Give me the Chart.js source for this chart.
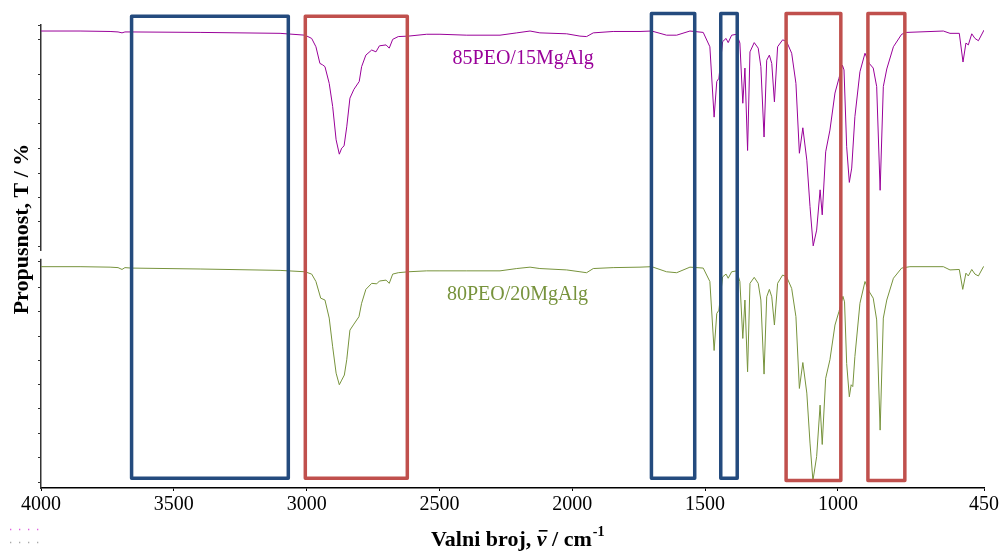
<!DOCTYPE html>
<html>
<head>
<meta charset="utf-8">
<script src="https://cdn.jsdelivr.net/npm/chart.js@4.4.1/dist/chart.umd.min.js"></script>
<style>
  body { margin: 0; background: #fff; }
</style>
</head>
<body>
<canvas id="myChart" width="1005" height="558"></canvas>
<script>
// 85PEO/15MgAlg (upper trace)
const wavenumbers85 = [
  4000, 3853, 3740, 3710, 3695, 3684, 3661, 3401, 3100, 3006,
  2981, 2965, 2950, 2940, 2931, 2915, 2902, 2889, 2877, 2868,
  2859, 2849, 2837, 2822, 2802, 2793, 2777, 2755, 2739, 2726,
  2701, 2689, 2676, 2655, 2617, 2548, 2498, 2397, 2272, 2209,
  2159, 2122, 2021, 1971, 1946, 1921, 1846, 1745, 1701, 1645,
  1607, 1557, 1507, 1482, 1466, 1456, 1448, 1434, 1421, 1413,
  1400, 1381, 1369, 1358, 1350, 1340, 1331, 1315, 1300, 1290,
  1278, 1268, 1258, 1249, 1239, 1227, 1208, 1193, 1174, 1158,
  1145, 1132, 1117, 1105, 1093, 1080, 1067, 1059, 1046, 1030,
  1011, 996, 983, 977, 967, 957, 948, 936, 917, 898,
  882, 867, 854, 841, 829, 816, 791, 760, 741, 603,
  578, 543, 529, 518, 509, 496, 484, 471, 450
];
const transmittance85 = [
  98.7, 98.7, 98.6, 98.5, 98.3, 98.5, 98.5, 98.4, 98.2, 97.8,
  97.1, 95.3, 91.7, 91.4, 91.0, 87.4, 82.4, 75.2, 72.1, 73.4,
  73.9, 78.0, 84.2, 86.1, 87.8, 91.0, 93.5, 94.6, 94.2, 95.5,
  95.7, 95.0, 96.9, 97.5, 97.6, 98.0, 98.0, 97.8, 97.8, 98.3,
  98.7, 98.3, 98.1, 97.6, 97.5, 98.3, 98.6, 98.6, 98.7, 97.8,
  97.8, 98.7, 98.4, 95.3, 80.1, 87.8, 88.5, 96.4, 97.1, 96.2,
  97.8, 98.0, 96.1, 83.1, 90.7, 72.9, 94.2, 96.2, 95.0, 91.0,
  75.8, 92.4, 93.5, 91.7, 83.4, 95.3, 96.8, 96.4, 93.9, 87.4,
  72.3, 77.8, 70.8, 60.8, 52.3, 55.7, 64.4, 59.0, 72.6, 77.3,
  85.3, 88.5, 91.3, 90.3, 73.7, 66.0, 69.1, 80.2, 89.9, 93.9,
  91.7, 90.7, 86.7, 64.3, 86.7, 90.5, 95.3, 98.0, 98.4, 98.7,
  98.2, 98.2, 92.0, 96.1, 95.7, 98.1, 97.1, 96.6, 98.9
];

// 80PEO/20MgAlg (lower trace)
const wavenumbers80 = [
  4000, 3853, 3740, 3710, 3695, 3684, 3661, 3401, 3100, 3006,
  2981, 2965, 2947, 2931, 2915, 2902, 2889, 2877, 2868, 2858,
  2849, 2837, 2822, 2803, 2793, 2777, 2755, 2736, 2726, 2701,
  2689, 2676, 2655, 2617, 2548, 2498, 2397, 2272, 2209, 2159,
  2122, 2021, 1971, 1946, 1921, 1846, 1745, 1701, 1645, 1607,
  1557, 1507, 1482, 1466, 1456, 1448, 1434, 1421, 1413, 1400,
  1381, 1369, 1358, 1350, 1340, 1331, 1315, 1300, 1290, 1278,
  1268, 1258, 1249, 1239, 1227, 1208, 1193, 1174, 1158, 1145,
  1132, 1117, 1105, 1094, 1080, 1067, 1059, 1046, 1030, 1011,
  996, 981, 975, 967, 957, 950, 944, 936, 917, 898,
  882, 867, 854, 841, 829, 816, 791, 760, 729, 603,
  578, 543, 530, 518, 509, 496, 484, 471, 452, 450
];
const transmittance80 = [
  47.8, 47.8, 47.7, 47.6, 47.2, 47.6, 47.5, 47.3, 47.0, 46.7,
  46.2, 44.6, 41.0, 40.6, 36.7, 30.5, 24.8, 22.3, 23.3, 24.4,
  27.7, 34.1, 35.4, 37.0, 39.9, 42.9, 44.2, 44.1, 44.7, 44.9,
  44.2, 46.2, 46.5, 46.7, 46.9, 46.9, 46.9, 46.9, 47.4, 47.7,
  47.4, 47.1, 46.7, 46.5, 47.4, 47.6, 47.7, 47.8, 46.7, 46.5,
  47.7, 47.5, 44.6, 29.7, 37.7, 38.4, 45.6, 46.2, 45.3, 46.7,
  46.9, 44.6, 32.3, 40.6, 25.1, 44.2, 45.5, 44.2, 40.6, 24.6,
  41.3, 42.9, 41.3, 35.2, 44.2, 46.0, 45.6, 43.1, 37.0, 21.5,
  27.1, 20.5, 9.7, 1.6, 6.8, 17.9, 9.4, 23.7, 27.7, 35.2,
  38.1, 41.4, 40.2, 26.9, 19.7, 22.3, 21.9, 28.4, 39.9, 44.6,
  42.4, 41.0, 36.3, 12.5, 36.7, 40.6, 45.3, 47.5, 47.8, 47.8,
  47.1, 47.2, 42.9, 46.4, 45.8, 47.2, 46.2, 45.8, 47.8, 47.8
];

const xTicks = [4000, 3500, 3000, 2500, 2000, 1500, 1000, 450];
const yTicks = [1.1, 6.5, 11.8, 17.1, 22.3, 27.5, 32.8, 38.1, 43.3, 48.9,
                52.1, 57.5, 62.7, 68.0, 73.4, 78.8, 84.0, 89.4, 96.8, 100];
const axisBreak = [49.5, 51.2];

// highlighted regions: [from, to, top, bottom]
const blueBands = [[3659, 3069, 101.9, 2.1], [1702, 1539, 102.5, 2.1], [1441, 1379, 102.5, 2.1]];
const redBands = [[3005, 2621, 101.9, 2.1], [1195, 989, 102.5, 1.6], [887, 748, 102.5, 1.6]];

const seriesNames = ["85PEO/15MgAlg", "80PEO/20MgAlg"];
const labelPos = [[2185, 91.6], [2206, 40.6]];

const purple = "#990099";
const green = "#77933C";
const serif = "'Liberation Serif', 'Times New Roman', serif";

const overlay = {
  id: "overlay",
  afterDatasetsDraw(chart) {
    const { ctx, scales: { x, y } } = chart;
    ctx.save();
    ctx.lineWidth = 3.5;
    ctx.lineJoin = "round";
    const drawBands = (bands, color) => {
      ctx.strokeStyle = color;
      bands.forEach(([a, b, top, bottom]) => {
        const x1 = x.getPixelForValue(a);
        const x2 = x.getPixelForValue(b);
        const y1 = y.getPixelForValue(top);
        const y2 = y.getPixelForValue(bottom);
        ctx.strokeRect(x1, y1, x2 - x1, y2 - y1);
      });
    };
    drawBands(blueBands, "#244B7E");
    drawBands(redBands, "#C0504D");

    ctx.font = "20px " + serif;
    ctx.textAlign = "center";
    ctx.textBaseline = "alphabetic";
    [purple, green].forEach((c, i) => {
      ctx.fillStyle = c;
      ctx.fillText(seriesNames[i], x.getPixelForValue(labelPos[i][0]), y.getPixelForValue(labelPos[i][1]));
    });
    ctx.restore();
  },
  afterDraw(chart) {
    const { ctx, scales: { x, y } } = chart;
    ctx.save();
    // break in the y axis
    ctx.fillStyle = "#fff";
    const b1 = y.getPixelForValue(axisBreak[1]);
    const b2 = y.getPixelForValue(axisBreak[0]);
    ctx.fillRect(x.left - 6, b1, 8, b2 - b1);

    // y title
    ctx.fillStyle = "#000";
    ctx.font = "bold 22px " + serif;
    ctx.textAlign = "center";
    ctx.textBaseline = "middle";
    ctx.translate(22, 229);
    ctx.rotate(-Math.PI / 2);
    ctx.fillText("Propusnost, T / %", 0, 0);
    ctx.setTransform(1, 0, 0, 1, 0, 0);

    // x title
    ctx.textAlign = "left";
    ctx.textBaseline = "alphabetic";
    let px = 431;
    const base = 546;
    const part = (text, font, dy) => {
      ctx.font = font;
      ctx.fillText(text, px, base + (dy || 0));
      px += ctx.measureText(text).width;
    };
    part("Valni broj, ", "bold 22px " + serif);
    const nuX = px;
    part("\u03BD", "bold italic 22px " + serif);
    // bar over nu
    ctx.fillRect(nuX + 2, base - 16, px - nuX - 1, 1.6);
    part(" / cm", "bold 22px " + serif);
    px += 1;
    part("-1", "bold 14px " + serif, -10);

    // faint legend marks
    ctx.lineWidth = 1.3;
    ctx.setLineDash([1.3, 7.7]);
    ctx.strokeStyle = "#E060E0";
    ctx.beginPath(); ctx.moveTo(10, 529.5); ctx.lineTo(40, 529.5); ctx.stroke();
    ctx.strokeStyle = "#AAAAAA";
    ctx.beginPath(); ctx.moveTo(10, 542.5); ctx.lineTo(40, 542.5); ctx.stroke();
    ctx.restore();
  },
};

const ctx = document.getElementById("myChart");
new Chart(ctx, {
  type: "line",
  data: {
    datasets: [
      {
        label: seriesNames[0],
        data: wavenumbers85.map((w, i) => ({ x: w, y: transmittance85[i] })),
        borderColor: purple,
      },
      {
        label: seriesNames[1],
        data: wavenumbers80.map((w, i) => ({ x: w, y: transmittance80[i] })),
        borderColor: green,
      },
    ],
  },
  options: {
    responsive: false,
    animation: false,
    devicePixelRatio: 1,
    layout: { padding: { left: 0, right: 21, top: 25, bottom: 0 } },
    elements: {
      point: { radius: 0 },
      line: { borderWidth: 1, tension: 0 },
    },
    plugins: {
      legend: { display: false },
      tooltip: { enabled: false },
    },
    scales: {
      x: {
        type: "linear",
        reverse: true,
        min: 450,
        max: 4000,
        afterBuildTicks: (s) => { s.ticks = xTicks.map((v) => ({ value: v })); },
        afterFit: (s) => { s.height = 70; },
        grid: { drawOnChartArea: false, tickLength: 3, color: "#000" },
        border: { color: "#000", width: 1.5 },
        ticks: {
          autoSkip: false,
          maxRotation: 0,
          padding: 2,
          color: "#000",
          font: { family: serif, size: 20 },
          callback: (v) => String(v),
        },
      },
      y: {
        min: 0,
        max: 100,
        afterBuildTicks: (s) => { s.ticks = yTicks.map((v) => ({ value: v })); },
        afterFit: (s) => { s.width = 41; },
        grid: { drawOnChartArea: false, tickLength: 3, color: "#333" },
        border: { color: "#333", width: 1.5 },
        ticks: { display: false },
      },
    },
  },
  plugins: [overlay],
});
</script>
</body>
</html>
